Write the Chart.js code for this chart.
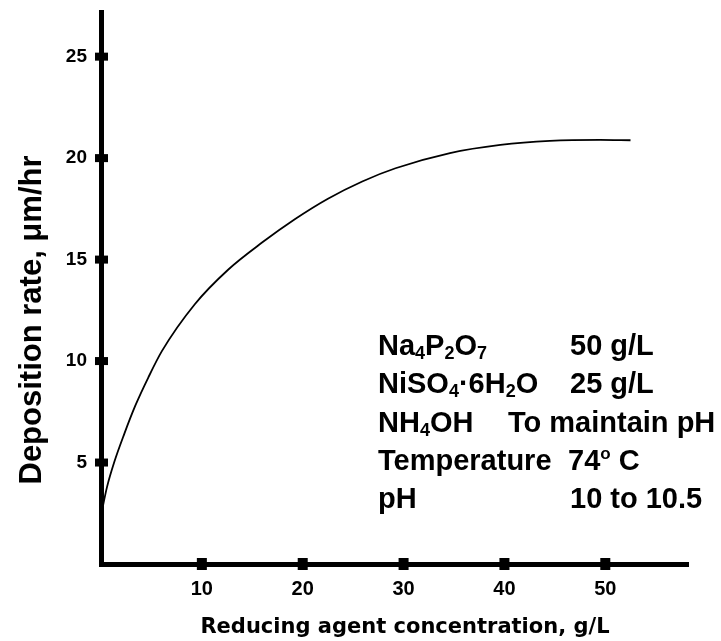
<!DOCTYPE html>
<html>
<head>
<meta charset="utf-8">
<script src="https://cdn.jsdelivr.net/npm/chart.js@4.4.1/dist/chart.umd.min.js"></script>
<style>
  html, body { margin: 0; padding: 0; background: #fff; }
  #wrap { width: 721px; height: 641px; position: relative; }
</style>
</head>
<body>
<div id="wrap"><canvas id="c" width="721" height="641"></canvas></div>
<script>
// ---- data ----
const concentration = [0, 0.6, 1.3, 2.3, 3.4, 4.7, 6.05, 9.3, 12.6, 16.0, 19.25, 22.5, 25.9, 29.2, 34.6, 39.6, 44.5, 49.5, 52.5];
const depositionRate = [2.4, 3.8, 5.0, 6.4, 7.8, 9.2, 10.5, 12.8, 14.5, 15.85, 17.0, 18.0, 18.85, 19.5, 20.25, 20.65, 20.85, 20.9, 20.88];
const xTickValues = [10, 20, 30, 40, 50];
const yTickValues = [5, 10, 15, 20, 25];
const xTitle = 'Reducing agent concentration, g/L';
const yTitle = 'Deposition rate, \u03BCm/hr';
// annotation rows: [left column segments, right column segments]
const noteLeft = [
  [['Na'], ['4', 'sub'], ['P'], ['2', 'sub'], ['O'], ['7', 'sub']],
  [['NiSO'], ['4', 'sub'], ['\u00B76H'], ['2', 'sub'], ['O']],
  [['NH'], ['4', 'sub'], ['OH']],
  [['Temperature']],
  [['pH']]
];
const noteRight = [
  [['50 g/L']],
  [['25 g/L']],
  [['To maintain pH']],
  [['74'], ['o', 'sup'], [' C']],
  [['10 to 10.5']]
];

const points = concentration.map((x, i) => ({ x: x, y: depositionRate[i] }));

const decorPlugin = {
  id: 'decor',
  afterDraw(chart) {
    const ctx = chart.ctx;
    const xs = chart.scales.x, ys = chart.scales.y;
    ctx.save();
    ctx.fillStyle = '#000';
    // tick squares
    xTickValues.forEach(v => {
      const px = xs.getPixelForValue(v), py = ys.getPixelForValue(0);
      ctx.fillRect(px - 5, py - 6, 10, 12);
    });
    yTickValues.forEach(v => {
      const px = xs.getPixelForValue(0), py = ys.getPixelForValue(v);
      ctx.fillRect(px - 6, py - 4, 13, 8);
    });
    // x title
    ctx.font = 'bold 21px "DejaVu Sans"';
    ctx.textAlign = 'center';
    ctx.textBaseline = 'alphabetic';
    ctx.fillText(xTitle, 405, 633);
    // y title
    ctx.save();
    ctx.translate(41, 320);
    ctx.rotate(-Math.PI / 2);
    ctx.font = 'bold 31px "Liberation Sans", Arial, sans-serif';
    ctx.textAlign = 'center';
    ctx.fillText(yTitle, 0, 0);
    ctx.restore();
    // annotation block
    ctx.textAlign = 'left';
    const baselines = [355, 393, 432, 470, 508];
    const rightX = [570, 570, 508, 568, 570];
    const drawSegs = (segs, x, y) => {
      segs.forEach(s => {
        let dy = 0;
        if (s[1] === 'sub') { ctx.font = 'bold 18px "Liberation Sans", Arial, sans-serif'; dy = 4; }
        else if (s[1] === 'sup') { ctx.font = 'bold 17px "Liberation Sans", Arial, sans-serif'; dy = -11; }
        else { ctx.font = 'bold 29px "Liberation Sans", Arial, sans-serif'; }
        ctx.fillText(s[0], x, y + dy);
        x += ctx.measureText(s[0]).width;
      });
    };
    noteLeft.forEach((segs, i) => drawSegs(segs, 378, baselines[i]));
    noteRight.forEach((segs, i) => drawSegs(segs, rightX[i], baselines[i]));
    ctx.restore();
  }
};

new Chart(document.getElementById('c'), {
  type: 'scatter',
  data: {
    datasets: [{
      data: points,
      showLine: true,
      borderColor: '#000',
      borderWidth: 1.8,
      pointRadius: 0,
      cubicInterpolationMode: 'monotone',
      fill: false
    }]
  },
  options: {
    responsive: false,
    animation: false,
    devicePixelRatio: 1,
    layout: { padding: { top: 12, right: 33, left: 0, bottom: 0 } },
    plugins: { legend: { display: false }, tooltip: { enabled: false } },
    scales: {
      x: {
        type: 'linear',
        min: 0,
        max: 58.2,
        afterBuildTicks: s => { s.ticks = xTickValues.map(v => ({ value: v })); },
        afterFit: s => { s.height = 77; s.paddingLeft = 0; s.paddingRight = 0; },
        grid: { display: true, drawOnChartArea: false, drawTicks: false },
        border: { display: true, color: '#000', width: 5 },
        ticks: { color: '#000', padding: 13, font: { family: '"Liberation Sans", Arial, sans-serif', size: 20, weight: 'bold' } }
      },
      y: {
        type: 'linear',
        min: 0,
        max: 27.2,
        afterBuildTicks: s => { s.ticks = yTickValues.map(v => ({ value: v })); },
        afterFit: s => { s.width = 101; s.paddingTop = 0; s.paddingBottom = 0; },
        grid: { display: true, drawOnChartArea: false, drawTicks: false },
        border: { display: true, color: '#000', width: 5 },
        ticks: { color: '#000', padding: 14, font: { family: '"Liberation Sans", Arial, sans-serif', size: 19, weight: 'bold' } }
      }
    }
  },
  plugins: [decorPlugin]
});
</script>
</body>
</html>
